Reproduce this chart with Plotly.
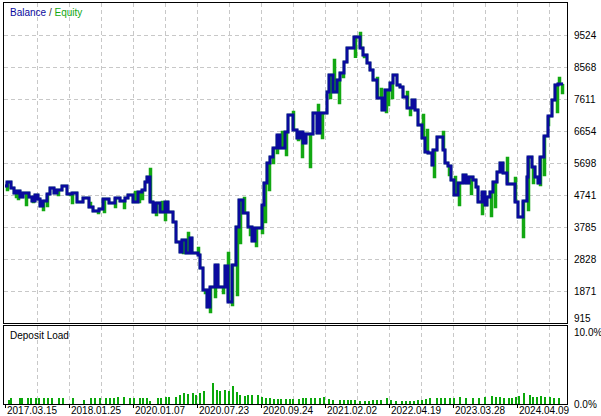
import plotly.graph_objects as go

# ---------------- data ----------------
# deal index (horizontal position of each balance change) and balance after it
bal_x = [5, 7, 11, 14, 17, 20, 23, 29, 32, 35, 38, 40, 43, 47, 50, 54, 57, 62, 67, 72,
         77, 83, 89, 93, 99, 103, 109, 115, 120, 125, 128, 133, 138, 142, 145, 147, 150, 153, 156, 160,
         165, 168, 173, 176, 180, 182, 186, 190, 192, 198, 200, 203, 207, 210, 215, 218, 225, 228, 232, 236,
         239, 243, 248, 252, 255, 262, 264, 267, 270, 273, 277, 280, 285, 288, 293, 297, 300, 303, 306, 313,
         317, 320, 327, 329, 333, 337, 340, 344, 347, 354, 360, 363, 367, 370, 373, 377, 382, 385, 390, 393,
         397, 400, 403, 407, 412, 415, 418, 422, 425, 428, 432, 433, 437, 443, 445, 448, 451, 454, 458, 463,
         466, 469, 473, 476, 478, 482, 485, 487, 490, 493, 497, 500, 503, 507, 515, 518, 523, 527, 528, 532,
         535, 538, 540, 544, 548, 552, 555, 558, 563]
bal_v = [5010, 5129, 4950, 4801, 4860, 4681, 4801, 4681, 4562, 4741, 4621, 4412, 4562, 4771, 4950, 4801, 4890, 5010, 4771, 4801,
         4532, 4651, 4382, 4263, 4322, 4621, 4502, 4651, 4562, 4651, 4741, 4532, 4831, 4890, 5129, 5279, 4532, 4233, 4502, 4233,
         4532, 4233, 3934, 3336, 3037, 3396, 3007, 3456, 3007, 2948, 2559, 1901, 1393, 1991, 2649, 1991, 2619, 1543, 2649, 3784,
         4591, 4203, 3784, 3366, 3755, 4442, 5100, 5697, 5877, 6146, 6534, 6146, 6624, 7132, 6684, 6445, 6624, 6295, 6564, 7192,
         6594, 7192, 7820, 8328, 7820, 8178, 8388, 8716, 9135, 9464, 9135, 8926, 8686, 8477, 8178, 7640, 7282, 7879, 8089, 8328,
         8029, 7969, 7670, 7341, 7580, 7282, 6833, 6445, 6026, 5996, 5638, 6086, 6475, 6086, 5697, 5608, 5189, 4741, 5100, 5339,
         5100, 5279, 5189, 4980, 4532, 4831, 4442, 4681, 4831, 5129, 5428, 5697, 5399, 5070, 4532, 4083, 4562, 5279, 5877, 5578,
         5279, 5100, 5877, 6504, 7102, 7580, 8029, 8059, 8059]

# equity excursions away from balance (deal index, equity extreme)
eq_spike_x = [7, 16, 18, 26, 33, 43, 47, 58, 70, 72, 90, 98, 104, 115, 124, 135, 139, 142, 150, 156,
              162, 165, 183, 188, 198, 205, 210, 215, 223, 228, 232, 237, 240, 244, 250, 256, 262, 265, 269, 273,
              277, 282, 286, 293, 298, 302, 305, 310, 318, 322, 330, 334, 339, 343, 355, 360, 364, 377, 381, 386,
              388, 392, 407, 410, 423, 427, 434, 443, 449, 455, 459, 471, 482, 491, 495, 507, 515, 523, 528, 533,
              540, 544, 548, 557, 559, 562]
eq_spike_v = [4890, 4681, 4621, 4442, 4532, 4293, 4412, 4741, 4741, 4502, 4502, 4203, 4233, 4382, 4352, 4831, 4532, 4621, 5518, 4143,
              4532, 3994, 3007, 3605, 3157, 1812, 1244, 1692, 1812, 3007, 1453, 1752, 3306, 4651, 3545, 3217, 3605, 3934, 4890, 5697,
              5996, 6624, 5937, 7222, 6385, 5877, 6385, 5578, 7431, 6445, 7640, 8776, 7491, 8268, 8876, 9583, 8866, 8238, 7910, 7222,
              7431, 7640, 7820, 7132, 7132, 6684, 5279, 6624, 5339, 5279, 4442, 4771, 4173, 4113, 4382, 5847, 5249, 3486, 4293, 5100,
              5040, 5339, 6833, 7222, 8238, 7790]

# deposit load bars (deal index, % load)
load_x = [8.5, 11, 19.5, 22, 27.5, 31, 35.5, 38.5, 43.5, 47.5, 51.5, 58.5, 62.5, 72.5, 83.5, 90.5, 95, 99.5, 106, 109.5,
          113.5, 117.5, 124, 130, 134, 139.5, 142.5, 146.5, 150, 157.5, 160.5, 165.5, 168.5, 175.5, 179.5, 184, 187.5, 192.5, 196, 199.5,
          203.5, 212.5, 216.5, 219.5, 225, 228.5, 232.5, 236.5, 240, 244.5, 247.5, 251.5, 257.5, 261.5, 265.5, 269.5, 273.5, 277.5, 281, 286,
          290, 292.5, 298.5, 302.5, 306, 311, 315, 319.5, 324, 328.5, 332.5, 340, 343.5, 347.5, 351, 355, 359.5, 365, 368.5, 372.5,
          376.5, 380.5, 386.5, 390.5, 396, 401.5, 406, 410, 414, 417.5, 421.5, 426, 430, 436.5, 440.5, 445, 449.5, 454, 460, 466,
          472.5, 478.5, 485, 491.5, 496, 500, 504, 508.5, 511.5, 516, 518.5, 524, 529.5, 532.5, 536.5, 540.5, 545, 549.5, 554, 558.5]
load_pct = [0.60, 0.79, 0.79, 0.79, 0.79, 0.79, 0.79, 0.79, 0.79, 0.79, 0.79, 0.79, 0.79, 0.79, 0.60, 0.79, 0.79, 0.79, 0.79, 0.79,
            0.79, 0.93, 0.93, 0.79, 0.79, 0.79, 0.79, 0.79, 0.46, 0.79, 0.79, 0.93, 0.93, 1.02, 1.30, 1.48, 1.39, 1.48, 1.30, 1.53,
            1.85, 2.87, 1.99, 1.85, 1.99, 1.85, 2.45, 1.62, 1.30, 1.16, 1.30, 1.30, 1.30, 0.93, 0.83, 0.83, 0.69, 0.69, 0.69, 0.69,
            0.69, 0.69, 0.69, 0.79, 0.79, 0.83, 0.79, 0.79, 0.93, 0.69, 0.60, 0.60, 0.60, 0.60, 0.60, 0.60, 0.46, 0.46, 0.46, 0.60,
            0.60, 0.60, 0.79, 0.56, 0.46, 0.46, 0.46, 0.46, 0.46, 0.56, 0.60, 0.69, 0.79, 0.79, 0.79, 0.79, 0.79, 0.79, 0.93, 0.83,
            0.83, 0.83, 1.02, 1.16, 0.93, 0.93, 0.83, 0.83, 0.83, 1.02, 1.16, 1.48, 1.30, 0.93, 1.02, 1.16, 1.02, 0.93, 0.83, 0.79]

# axis labels
bal_min_label = "915"
bal_tick_vals = [915, 1871.6, 2828.1, 3784.7, 4741.2, 5697.8, 6654.4, 7610.9, 8567.5, 9524]
bal_tick_text = ["", "1871", "2828", "3785", "4741", "5698", "6654", "7611", "8568", "9524"]
date_pos = [5, 69, 133, 197, 261, 325, 389, 453, 517]
date_text = ["2017.03.15", "2018.01.25", "2020.01.07", "2020.07.23", "2020.09.24",
             "2021.02.02", "2022.04.19", "2023.03.28", "2024.04.09"]
grid_pos = [37 + 32 * k for k in range(17)]
load_tick_vals = [0, 10]
load_tick_text = ["0.0%", "10.0%"]

# ---------------- build equity path from balance + excursions ----------------
events = [(x, 0, v) for x, v in zip(bal_x, bal_v)] + [(x, 1, v) for x, v in zip(eq_spike_x, eq_spike_v)]
events.sort(key=lambda e: (e[0], e[1]))
eq_x, eq_y = [], []
cur = bal_v[0]
for x, kind, v in events:
    if kind == 0:
        eq_x += [x, x]
        eq_y += [cur, v]
        cur = v
    else:
        eq_x += [x, x, x + 1, x + 1]
        eq_y += [cur, v, v, cur]

NAVY = "#0A0A9E"
GREEN = "#12A812"
GRID = "#C8C8C8"
FONT = "Liberation Sans"

fig = go.Figure()
fig.add_trace(go.Scatter(x=eq_x, y=eq_y, mode="lines", line=dict(color=GREEN, width=2.5),
                         xaxis="x", yaxis="y", hoverinfo="skip", showlegend=False))
fig.add_trace(go.Scatter(x=bal_x, y=bal_v, mode="lines", line=dict(color=NAVY, width=3, shape="hv"),
                         xaxis="x", yaxis="y", hoverinfo="skip", showlegend=False))
fig.add_trace(go.Bar(x=load_x, y=load_pct, width=2, marker=dict(color="#0AA80A", line=dict(width=0)),
                     xaxis="x2", yaxis="y2", hoverinfo="skip", showlegend=False))

axis_common = dict(showline=True, mirror=True, linecolor="black", linewidth=1, zeroline=False,
                   automargin=False)
main_bottom = (404 - 323) / 401
load_top = (404 - 326) / 401

fig.update_layout(
    width=601, height=416,
    margin=dict(l=4, r=34, t=3, b=12, autoexpand=False),
    paper_bgcolor="white", plot_bgcolor="white",
    font=dict(family=FONT, size=10, color="black"),
    xaxis=dict(domain=[0, 1], range=[4, 567], anchor="y", tickvals=grid_pos, showticklabels=False,
               ticks="", showgrid=True, gridcolor=GRID, griddash="4px,3px", gridwidth=1, **axis_common),
    yaxis=dict(domain=[main_bottom, 1], range=[915, 10481], anchor="x", side="right",
               tickvals=bal_tick_vals, ticktext=bal_tick_text, ticks="", ticklabelstandoff=4,
               showgrid=True, gridcolor=GRID, griddash="4px,3px", gridwidth=1, **axis_common),
    xaxis2=dict(domain=[0, 1], range=[4, 567], anchor="y2", tickvals=grid_pos, showticklabels=False,
                ticks="", showgrid=True, gridcolor=GRID, griddash="4px,3px", gridwidth=1,
                minor=dict(tickvals=date_pos, ticks="outside", ticklen=3, tickcolor="black", showgrid=False),
                **axis_common),
    yaxis2=dict(domain=[0, load_top], range=[0, 10.9], anchor="x2", side="right",
                tickvals=load_tick_vals, ticktext=load_tick_text, ticks="", ticklabelstandoff=4,
                showgrid=False, **axis_common),
    bargap=0,
)

annotations = [
    dict(x=(8 - 4) / 563, y=(404 - 12) / 401, xref="paper", yref="paper", xanchor="left", yanchor="middle",
         showarrow=False, font=dict(family=FONT, size=10),
         text=f"<span style='color:{NAVY}'>Balance</span><span style='color:#333333'> / </span>"
              f"<span style='color:{GREEN}'>Equity</span>"),
    dict(x=(8 - 4) / 563, y=(404 - 335) / 401, xref="paper", yref="paper", xanchor="left", yanchor="middle",
         showarrow=False, text="Deposit Load", font=dict(family=FONT, size=10, color="black")),
    dict(x=1, y=bal_tick_vals[0], xref="paper", yref="y", xanchor="left", yanchor="bottom",
         xshift=6, yshift=-2, showarrow=False, text=bal_min_label, borderpad=0,
         font=dict(family=FONT, size=10, color="black")),
]
for pos, txt in zip(date_pos, date_text):
    annotations.append(dict(x=pos, y=(404 - 411) / 401, xref="x2", yref="paper", xanchor="left",
                            yanchor="middle", showarrow=False, text=txt, xshift=0,
                            font=dict(family=FONT, size=10, color="black")))
fig.update_layout(annotations=annotations)

fig.write_html("out.html", post_script="document.body.style.margin='0px';",
               config={"displayModeBar": False})
